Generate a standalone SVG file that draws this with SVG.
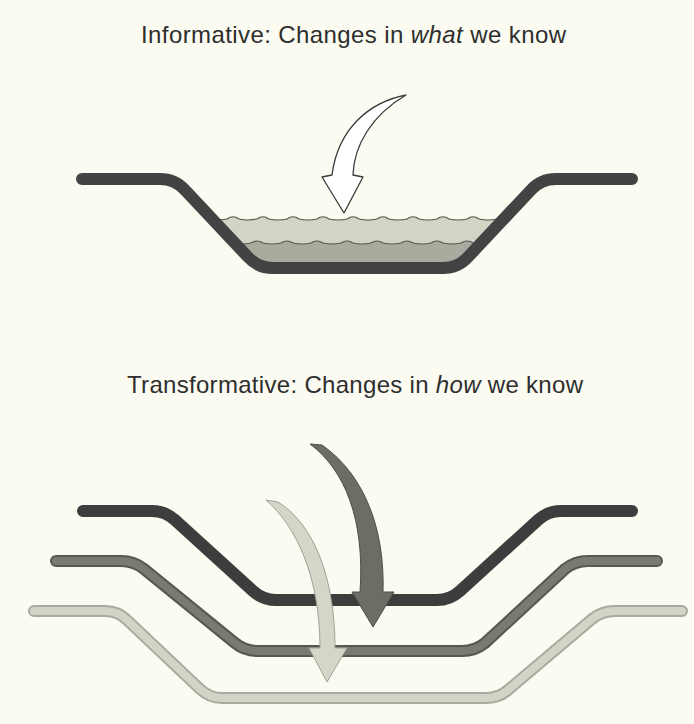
<svg xmlns="http://www.w3.org/2000/svg" width="694" height="724" viewBox="0 0 694 724">
  <style>
    .title { font-family: "Liberation Sans", Arial, sans-serif; font-size: 24px; fill: #2e2e2e; }
    .it { font-style: italic; }
    .trough { fill: none; stroke-linecap: round; stroke-linejoin: round; }
    .wave { fill: none; stroke: #555550; stroke-width: 1.2; }
  </style>
  <defs>
    <clipPath id="basin">
      <path d="M 175,179 L 258,268 L 458,268 L 541,179 Z"/>
    </clipPath>
  </defs>
  <rect width="694" height="724" fill="#fbfbf1"/>

  <g id="title-informative">
    <text class="title" x="141" y="43" textLength="425" lengthAdjust="spacing">Informative: Changes in <tspan class="it">what</tspan> we know</text>
  </g>

  <g id="basin-informative">
    <g clip-path="url(#basin)">
      <path fill="#d3d4c5" d="M 197,219 q 6,-4.5 12,0 q 9,2 18,0 q 6,-4.5 12,0 q 9,2 18,0 q 6,-4.5 12,0 q 9,2 18,0 q 6,-4.5 12,0 q 9,2 18,0 q 6,-4.5 12,0 q 9,2 18,0 q 6,-4.5 12,0 q 9,2 18,0 q 6,-4.5 12,0 q 9,2 18,0 q 6,-4.5 12,0 q 9,2 18,0 q 6,-4.5 12,0 q 9,2 18,0 q 6,-4.5 12,0 q 9,2 18,0 q 6,-4.5 12,0 q 9,2 18,0 L 527,290 L 197,290 Z"/>
      <path fill="#aaab9e" d="M 221,243 q 6,-4 12,0 q 9,2 18,0 q 6,-4 12,0 q 9,2 18,0 q 6,-4 12,0 q 9,2 18,0 q 6,-4 12,0 q 9,2 18,0 q 6,-4 12,0 q 9,2 18,0 q 6,-4 12,0 q 9,2 18,0 q 6,-4 12,0 q 9,2 18,0 q 6,-4 12,0 q 9,2 18,0 q 6,-4 12,0 q 9,2 18,0 L 491,290 L 221,290 Z"/>
      <path class="wave" d="M 197,219 q 6,-4.5 12,0 q 9,2 18,0 q 6,-4.5 12,0 q 9,2 18,0 q 6,-4.5 12,0 q 9,2 18,0 q 6,-4.5 12,0 q 9,2 18,0 q 6,-4.5 12,0 q 9,2 18,0 q 6,-4.5 12,0 q 9,2 18,0 q 6,-4.5 12,0 q 9,2 18,0 q 6,-4.5 12,0 q 9,2 18,0 q 6,-4.5 12,0 q 9,2 18,0 q 6,-4.5 12,0 q 9,2 18,0 q 6,-4.5 12,0 q 9,2 18,0"/>
      <path class="wave" d="M 221,243 q 6,-4 12,0 q 9,2 18,0 q 6,-4 12,0 q 9,2 18,0 q 6,-4 12,0 q 9,2 18,0 q 6,-4 12,0 q 9,2 18,0 q 6,-4 12,0 q 9,2 18,0 q 6,-4 12,0 q 9,2 18,0 q 6,-4 12,0 q 9,2 18,0 q 6,-4 12,0 q 9,2 18,0 q 6,-4 12,0 q 9,2 18,0"/>
    </g>
    <path class="trough" stroke="#434343" stroke-width="12" d="M 82,179 L 160,179 Q 175,179 185,190 L 248,257 Q 258,268 273,268 L 443,268 Q 458,268 468,257 L 531,190 Q 541,179 556,179 L 632,179"/>
  </g>

  <g id="arrow-informative">
    <path fill="#ffffff" stroke="#3a3a3a" stroke-width="1.3" stroke-linejoin="round" d="M 406,95 C 370,102 338,128 332,175 L 322,177 L 344,213 L 363,177 L 353,175 C 354,145 372,115 406,95 Z"/>
  </g>

  <g id="title-transformative">
    <text class="title" x="127" y="393" textLength="456" lengthAdjust="spacing">Transformative: Changes in <tspan class="it">how</tspan> we know</text>
  </g>

  <g id="trough-a">
    <path class="trough" stroke="#3d3d3d" stroke-width="12" d="M 83,511 L 152,511 Q 165,511 175,520 L 253,591 Q 263,600 276,600 L 437,600 Q 450,600 460,591 L 538,520 Q 548,511 561,511 L 632,511"/>
  </g>
  <g id="trough-b">
    <path class="trough" stroke="#585852" stroke-width="12" d="M 56,561 L 121,561 Q 134,561 144,569 L 235,643 Q 245,651 258,651 L 462,651 Q 475,651 485,643 L 565,569 Q 575,561 588,561 L 657,561"/>
    <path class="trough" stroke="#7a7a72" stroke-width="8" d="M 56,561 L 121,561 Q 134,561 144,569 L 235,643 Q 245,651 258,651 L 462,651 Q 475,651 485,643 L 565,569 Q 575,561 588,561 L 657,561"/>
  </g>
  <g id="trough-c">
    <path class="trough" stroke="#a9a99f" stroke-width="12" d="M 34,611 L 105,611 Q 118,611 127,620 L 200,689 Q 209.5,698 222,698 L 486,698 Q 499,698 508,690 L 592,619 Q 602,611 615,611 L 682,611"/>
    <path class="trough" stroke="#d3d3c6" stroke-width="8" d="M 34,611 L 105,611 Q 118,611 127,620 L 200,689 Q 209.5,698 222,698 L 486,698 Q 499,698 508,690 L 592,619 Q 602,611 615,611 L 682,611"/>
  </g>

  <g id="connectors">
    <path id="arrow-dark" fill="#6d6d66" stroke="#4f4f4a" stroke-width="1" stroke-linejoin="round" d="M 310,444 C 345,470 365,520 360,592 L 352,592 L 373,627 L 394,592 L 383,592 C 385,530 365,475 322,445 Z"/>
    <path id="arrow-light" fill="#d5d5c8" stroke="#a0a096" stroke-width="1" stroke-linejoin="round" d="M 266,500 C 295,525 320,575 320,648 L 309,648 L 327,682 L 347,648 L 335,648 C 335,580 315,525 278,502 Z"/>
  </g>
</svg>
